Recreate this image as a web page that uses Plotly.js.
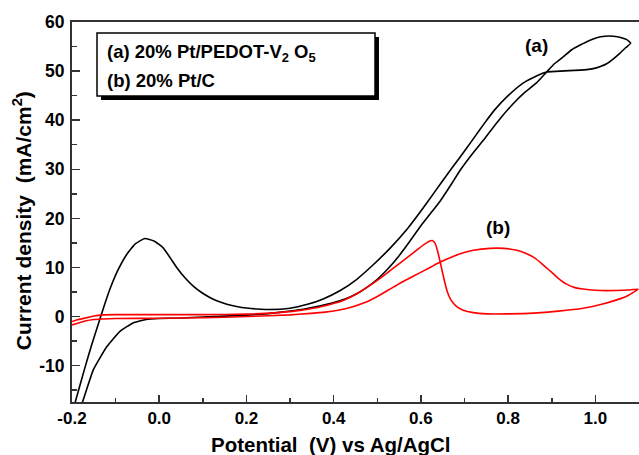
<!DOCTYPE html>
<html>
<head>
<meta charset="utf-8">
<script src="https://cdn.plot.ly/plotly-3.0.1.min.js"></script>
<style>html,body{margin:0;padding:0;background:#fff;}#chart{width:639px;height:455px;}</style>
</head>
<body>
<div id="chart"></div>
<script>
// Curve (a) 20% Pt/PEDOT-V2O5 : forward then reverse scan
const aPotential = [-0.2, -0.174, -0.151, -0.12, -0.09, -0.06, -0.03, 0.0, 0.05, 0.1, 0.15, 0.2, 0.25, 0.28, 0.33, 0.37, 0.414, 0.44, 0.46, 0.48, 0.5, 0.525, 0.55, 0.575, 0.6, 0.622, 0.644, 0.67, 0.69, 0.715, 0.743, 0.775, 0.812, 0.84, 0.865, 0.888, 0.906, 0.926, 0.945, 0.965, 0.985, 1.003, 1.022, 1.041, 1.06, 1.072, 1.081,
  1.07, 1.056, 1.04, 1.026, 1.01, 0.995, 0.98, 0.965, 0.94, 0.919, 0.9, 0.888, 0.865, 0.835, 0.8, 0.77, 0.745, 0.72, 0.69, 0.659, 0.63, 0.6, 0.57, 0.53, 0.49, 0.453, 0.415, 0.376, 0.34, 0.3, 0.25, 0.225, 0.2, 0.18, 0.155, 0.135, 0.116, 0.097, 0.078, 0.06, 0.04, 0.025, 0.009, -0.012, -0.033, -0.055, -0.075, -0.095, -0.113, -0.128, -0.14, -0.155, -0.17, -0.185, -0.2];
const aCurrent = [-23.5, -16.9, -10.8, -6.1, -3.0, -1.3, -0.6, -0.4, -0.3, -0.1, 0.1, 0.3, 0.6, 0.9, 1.5, 2.2, 3.2, 4.1, 5.0, 6.2, 7.6, 9.8, 12.4, 15.4, 18.5, 21.0, 23.5, 27.0, 29.8, 32.8, 35.9, 39.6, 43.4, 45.8, 47.6, 49.8, 51.5, 52.9, 54.3, 55.3, 56.2, 56.8, 57.1, 57.1, 56.8, 56.4, 55.7,
  54.8, 53.6, 52.4, 51.5, 50.9, 50.5, 50.3, 50.2, 50.1, 50.0, 49.9, 49.8, 49.0, 47.6, 45.0, 42.2, 39.3, 36.2, 32.5, 28.8, 25.2, 21.5, 18.0, 14.0, 10.5, 7.6, 5.3, 3.6, 2.5, 1.7, 1.45, 1.55, 1.75, 2.0, 2.5, 3.1, 3.9, 4.9, 6.2, 7.8, 10.0, 12.0, 14.0, 15.4, 15.9, 14.8, 12.6, 9.4, 5.6, 1.7, -1.6, -5.8, -10.3, -15.0, -19.8];

// Curve (b) 20% Pt/C : forward then reverse scan
const bPotential = [-0.2, -0.185, -0.17, -0.15, -0.13, -0.1, 0.0, 0.1, 0.2, 0.3, 0.34, 0.38, 0.41, 0.44, 0.47, 0.5, 0.529, 0.552, 0.58, 0.606, 0.625, 0.644, 0.667, 0.69, 0.72, 0.758, 0.79, 0.82, 0.84, 0.858, 0.877, 0.896, 0.915, 0.934, 0.953, 0.972, 1.01, 1.049, 1.075, 1.098,
  1.075, 1.049, 1.01, 0.972, 0.915, 0.858, 0.8, 0.75, 0.72, 0.697, 0.68, 0.668, 0.66, 0.652, 0.644, 0.638, 0.632, 0.626, 0.618, 0.606, 0.58, 0.552, 0.52, 0.491, 0.45, 0.414, 0.36, 0.3, 0.2, 0.1, 0.0, -0.1, -0.13, -0.15, -0.17, -0.185, -0.2];
const bCurrent = [-1.7, -1.3, -0.9, -0.6, -0.5, -0.4, -0.35, -0.25, 0.0, 0.35, 0.6, 0.9, 1.3, 1.9, 2.8, 4.1, 5.6, 6.8, 8.1, 9.3, 10.2, 11.1, 12.0, 12.8, 13.5, 13.9, 13.9, 13.5, 12.9, 12.1, 10.8, 9.3, 7.8, 6.6, 5.9, 5.6, 5.3, 5.3, 5.4, 5.6,
  4.3, 3.4, 2.4, 1.7, 1.1, 0.7, 0.55, 0.55, 0.8, 1.3, 2.2, 3.5, 5.2, 8.0, 11.2, 13.4, 15.0, 15.5, 15.3, 14.6, 12.8, 10.9, 8.7, 6.8, 4.5, 3.0, 1.8, 1.0, 0.5, 0.4, 0.4, 0.4, 0.35, 0.1, -0.3, -0.6, -1.0];

const xTickVals = [-0.2, 0.0, 0.2, 0.4, 0.6, 0.8, 1.0];
const xTickText = ['-0.2', '0.0', '0.2', '0.4', '0.6', '0.8', '1.0'];
const yTickVals = [-10, 0, 10, 20, 30, 40, 50, 60];
const yTickText = ['-10', '0', '10', '20', '30', '40', '50', '60'];

const xTitle = 'Potential\u00a0\u00a0(V) vs Ag/AgCl';
const yTitle = 'Current density\u00a0\u00a0(mA/cm<sup>2</sup>)';
const legendLines = ['(a) 20% Pt/PEDOT-V<sub>2</sub> O<sub>5</sub>', '(b) 20% Pt/C'];
const curveLabels = ['(a)', '(b)'];

const FONT = 'Liberation Sans, Arial, Helvetica, sans-serif';
const AX = '#333333';

const traces = [
  {x: aPotential, y: aCurrent, mode: 'lines', line: {color: '#000000', width: 1.6, shape: 'spline', smoothing: 0.4}, name: legendLines[0], showlegend: false},
  {x: bPotential, y: bCurrent, mode: 'lines', line: {color: '#ff0000', width: 1.6, shape: 'spline', smoothing: 0.4}, name: legendLines[1], showlegend: false}
];

const layout = {
  width: 639, height: 455,
  margin: {l: 72, r: 0, t: 22, b: 53},
  paper_bgcolor: '#ffffff', plot_bgcolor: '#ffffff',
  font: {family: FONT, color: '#000000'},
  showlegend: false,
  xaxis: {
    range: [-0.2, 1.1], tickmode: 'array', tickvals: xTickVals, ticktext: xTickText,
    ticks: 'inside', ticklen: 7, tickwidth: 1.5, tickcolor: AX,
    minor: {tickmode: 'linear', tick0: 0, dtick: 0.1, ticks: 'inside', ticklen: 4, tickwidth: 1.5, tickcolor: AX},
    showline: true, linecolor: AX, linewidth: 2, mirror: true,
    showgrid: false, zeroline: false, automargin: false,
    tickfont: {family: FONT, size: 17, weight: 'bold', color: '#000'}
  },
  yaxis: {
    range: [-17.4, 60], tickmode: 'array', tickvals: yTickVals, ticktext: yTickText,
    ticks: 'inside', ticklen: 8, tickwidth: 1.5, tickcolor: AX,
    minor: {tickmode: 'linear', tick0: 0, dtick: 5, ticks: 'inside', ticklen: 5, tickwidth: 1.5, tickcolor: AX},
    showline: true, linecolor: AX, linewidth: 2, mirror: false,
    showgrid: false, zeroline: false, automargin: false,
    tickfont: {family: FONT, size: 17.5, weight: 'bold', color: '#000'},
    ticklabelstandoff: 2
  },
  shapes: [
    {type: 'rect', xref: 'paper', yref: 'paper', x0: 0.0511, x1: 0.5414, y0: 0.7947, y1: 0.9605, fillcolor: '#000', line: {width: 0}},
    {type: 'rect', xref: 'paper', yref: 'paper', x0: 0.0441, x1: 0.5344, y0: 0.8053, y1: 0.971, fillcolor: '#fff', line: {color: '#000', width: 1.5}}
  ],
  annotations: [
    {xref: 'paper', yref: 'paper', x: 0.457, y: -0.113, xanchor: 'center', yanchor: 'middle', showarrow: false, text: xTitle, font: {family: FONT, size: 20.5, weight: 'bold', color: '#000'}},
    {xref: 'paper', yref: 'paper', x: -0.088, y: 0.476, xanchor: 'center', yanchor: 'middle', textangle: -90, showarrow: false, text: yTitle, font: {family: FONT, size: 21, weight: 'bold', color: '#000'}},
    {xref: 'paper', yref: 'paper', x: 0.058, y: 0.918, xanchor: 'left', yanchor: 'middle', showarrow: false, text: legendLines[0], font: {family: FONT, size: 18.5, weight: 'bold', color: '#000'}},
    {xref: 'paper', yref: 'paper', x: 0.058, y: 0.847, xanchor: 'left', yanchor: 'middle', showarrow: false, text: legendLines[1], font: {family: FONT, size: 18.5, weight: 'bold', color: '#000'}},
    {xref: 'x', yref: 'y', x: 0.864, y: 55.2, showarrow: false, text: curveLabels[0], font: {family: FONT, size: 19, weight: 'bold', color: '#000'}},
    {xref: 'x', yref: 'y', x: 0.777, y: 18.2, showarrow: false, text: curveLabels[1], font: {family: FONT, size: 19, weight: 'bold', color: '#000'}}
  ]
};

Plotly.newPlot('chart', traces, layout, {staticPlot: true, displayModeBar: false});
</script>
</body>
</html>
